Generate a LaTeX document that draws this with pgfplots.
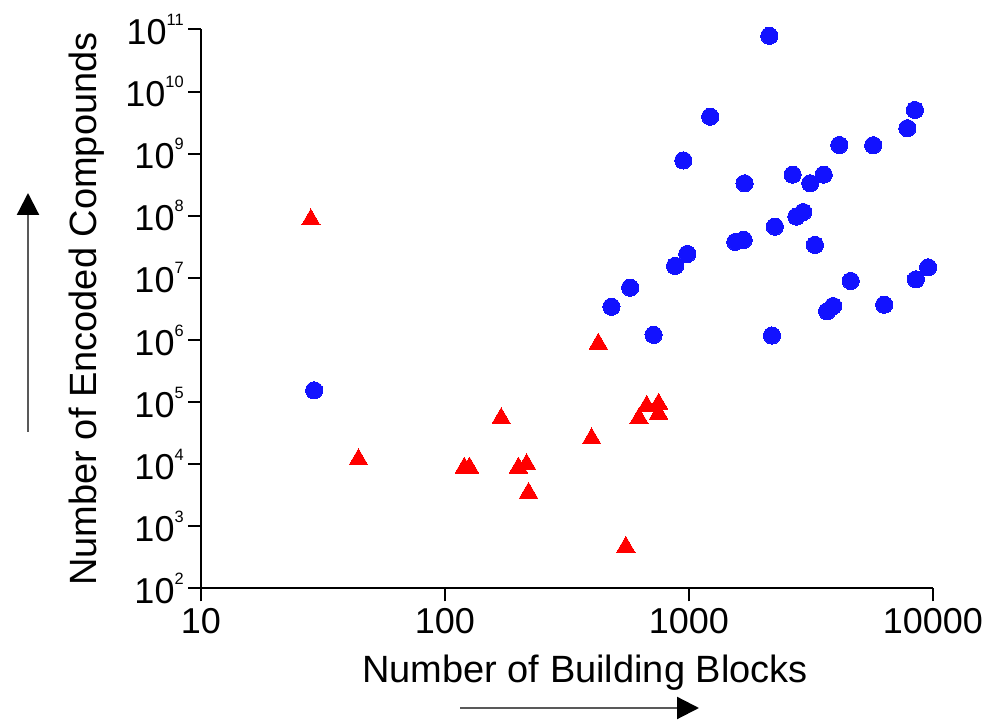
\documentclass[border=0pt]{standalone}
\usepackage{fontspec}
\setmainfont{Liberation Sans}
\usepackage{pgfplots}
\usepackage{pgfplotstable}
\pgfplotsset{compat=1.18}
\usetikzlibrary{arrows.meta}
\definecolor{dotblue}{RGB}{18,18,255}
\definecolor{trired}{RGB}{255,0,0}
\newcommand\ex[1]{\raisebox{9.5pt}{\fontsize{8.2}{8.2}\selectfont #1}}

\pgfplotstableread{
x y
2134 7.9e10
1222 3.95e9
948 7.8e8
8433 5.06e9
7854 2.57e9
4131 1.38e9
5690 1.37e9
1690 3.34e8
2660 4.6e8
3141 3.34e8
3565 4.6e8
2938 1.15e8
2754 9.7e7
2249 6.7e7
1549 3.8e7
1675 4.1e7
3282 3.4e7
984 2.43e7
877 1.56e7
574 6.97e6
481 3.44e6
716 1.21e6
2188 1.18e6
4603 8.93e6
9550 1.48e7
8511 9.5e6
6310 3.7e6
3899 3.53e6
3681 2.9e6
29.1 1.55e5
}\bluedata

\pgfplotstableread{
x y
425 8.7e5
170 5.5e4
399 2.6e4
671 8.7e4
751 9.4e4
624 5.5e4
751 6.5e4
120 8.8e3
126 8.8e3
200 8.8e3
216 1.0e4
220 3.45e3
551 466
28.2 8.7e7
44.2 1.2e4
}\reddata

\begin{document}
\begin{tikzpicture}
\begin{axis}[
  at={(0,0)}, anchor=south west,
  scale only axis, width=366pt, height=279.5pt,
  xmode=log, ymode=log,
  xmin=10, xmax=10000, ymin=1e2, ymax=1e11,
  axis lines*=left,
  axis line style={line width=1pt, black},
  tick align=outside, major tick length=6.5pt,
  major tick style={line width=1pt, black},
  minor tick length=0pt, minor tick style={draw=none},
  xtick={10,100,1000,10000}, xticklabels={10,100,1000,10000},
  ytick={1e2,1e3,1e4,1e5,1e6,1e7,1e8,1e9,1e10,1e11},
  yticklabels={10\ex{2},10\ex{3},10\ex{4},10\ex{5},10\ex{6},10\ex{7},10\ex{8},10\ex{9},10\ex{10},10\ex{11}},
  ticklabel style={font=\fontsize{18}{18}\selectfont},
  xticklabel style={inner sep=3pt},
  yticklabel style={inner sep=2pt},
  xlabel={Number of Building Blocks},
  ylabel={Number of Encoded Compounds},
  label style={font=\fontsize{19}{19}\selectfont},
  xlabel style={at={(axis description cs:0.5246,-0.1673)}, anchor=base},
  ylabel style={at={(axis description cs:-0.1421,0.5)}, anchor=base},
  clip=false,
]
\addplot[trired, only marks, mark=triangle*, mark size=5.3pt, mark options={solid, fill=trired, draw=trired, line width=0pt}] table[x=x,y=y] {\reddata};
\addplot[dotblue, only marks, mark=*, mark size=4.3pt, mark options={solid, fill=dotblue, draw=dotblue, line width=0pt}] table[x=x,y=y] {\bluedata};
\end{axis}
\draw[line width=1.1pt, black!65, -{Triangle[length=11pt,width=11pt,black]}] (-86.5pt,78.25pt) -- (-86.5pt,197.75pt);
\draw[line width=1.1pt, black!65, -{Triangle[length=11pt,width=11pt,black]}] (129.5pt,-59.75pt) -- (249pt,-59.75pt);
\pgfresetboundingbox
\path[use as bounding box] (-100.5pt,-66.75pt) rectangle (393pt,294.25pt);
\end{tikzpicture}
\end{document}
